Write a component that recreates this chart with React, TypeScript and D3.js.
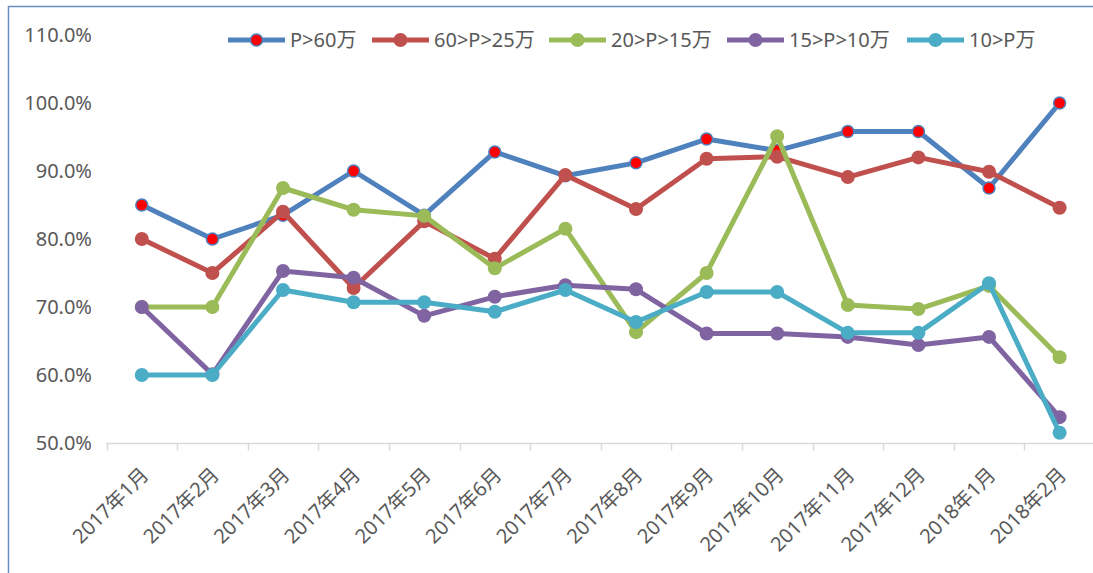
import React from "react";
import * as d3 from "d3";

const months = [
  "2017年1月", "2017年2月", "2017年3月", "2017年4月", "2017年5月", "2017年6月", "2017年7月",
  "2017年8月", "2017年9月", "2017年10月", "2017年11月", "2017年12月", "2018年1月", "2018年2月",
];

const seriesNames = ["P>60万", "60>P>25万", "20>P>15万", "15>P>10万", "10>P万"];

const above60 = [85, 80, 83.5, 90, 83.5, 92.8, 89.3, 91.2, 94.7, 93, 95.8, 95.8, 87.5, 100];
const from25to60 = [80, 75, 84, 72.8, 82.6, 77.1, 89.4, 84.4, 91.8, 92.1, 89.1, 92, 89.9, 84.6];
const from15to20 = [70, 70, 87.5, 84.3, 83.4, 75.7, 81.5, 66.3, 75, 95.1, 70.3, 69.7, 73.1, 62.6];
const from10to15 = [70, 60.1, 75.3, 74.3, 68.7, 71.5, 73.2, 72.6, 66.1, 66.1, 65.6, 64.4, 65.6, 53.8];
const below10 = [60, 60, 72.5, 70.7, 70.7, 69.3, 72.5, 67.8, 72.2, 72.2, 66.2, 66.2, 73.5, 51.5];

const yTicks = [50, 60, 70, 80, 90, 100, 110];

const colors = ["#4F81BD", "#C0504D", "#9BBB59", "#8064A2", "#4BACC6"];

const W = 1093;
const H = 573;
const font = "'Noto Sans', 'Noto Sans CJK SC', sans-serif";

// legend line start x for each item
const legendX = [228, 372, 549, 727, 907];

export default function App() {
  const allSeries = [above60, from25to60, from15to20, from10to15, below10];

  const x = d3.scaleBand<string>().domain(months).range([106.5, 106.5 + 70.6 * 14]).padding(0);
  const cx = (m: string) => (x(m) as number) + x.bandwidth() / 2;
  const y = d3.scaleLinear().domain([50, 110]).range([443, 35]);

  const line = d3
    .line<number>()
    .x((_, i) => cx(months[i]))
    .y((d) => y(d));

  const axisY = Math.round(y(50)) + 0.5;
  const tickXs = months.map((m) => x(m) as number).concat([(x(months[13]) as number) + x.bandwidth()]);

  return (
    <svg
      width={W}
      height={H}
      style={{ position: "absolute", left: 0, top: 0, background: "#fff" }}
      fontFamily={font}
    >
      <rect x={0} y={0} width={W} height={H} fill="#fff" />
      {/* chart frame */}
      <path d={`M8.5,${H + 2}V6.5H${W + 2}`} fill="none" stroke="#6A8EC2" strokeWidth={1.5} />

      {/* y labels */}
      {yTicks.map((t) => (
        <text
          key={t}
          x={92}
          y={y(t)}
          dy="0.36em"
          textAnchor="end"
          fontSize={20}
          fill="#595959"
        >
          {d3.format(".1f")(t) + "%"}
        </text>
      ))}

      {/* x axis */}
      <line x1={106} x2={W} y1={axisY} y2={axisY} stroke="#D9D9D9" strokeWidth={1.5} />
      {tickXs.map((tx, i) => (
        <line
          key={i}
          x1={Math.round(tx) + 0.5}
          x2={Math.round(tx) + 0.5}
          y1={axisY}
          y2={axisY + 7}
          stroke="#D9D9D9"
          strokeWidth={1.5}
        />
      ))}
      {months.map((m) => (
        <text
          key={m}
          transform={`translate(${cx(m) + 8},476) rotate(-45)`}
          textAnchor="end"
          fontSize={20}
          fill="#595959"
        >
          {m}
        </text>
      ))}

      {/* series */}
      {allSeries.map((s, si) => (
        <g key={si}>
          <path
            d={line(s) as string}
            fill="none"
            stroke={colors[si]}
            strokeWidth={5}
            strokeLinejoin="round"
            strokeLinecap="round"
          />
          {s.map((v, i) => (
            <circle
              key={i}
              cx={cx(months[i])}
              cy={y(v)}
              r={si === 0 ? 6 : 7}
              fill={si === 0 ? "#FF0000" : colors[si]}
              stroke={colors[si]}
              strokeWidth={si === 0 ? 1.5 : 0}
            />
          ))}
        </g>
      ))}

      {/* legend */}
      {seriesNames.map((name, i) => (
        <g key={name} transform={`translate(${legendX[i]},40)`}>
          <line x1={0} x2={57} y1={0} y2={0} stroke={colors[i]} strokeWidth={5} />
          <circle
            cx={28.5}
            cy={0}
            r={i === 0 ? 6 : 7}
            fill={i === 0 ? "#FF0000" : colors[i]}
            stroke={colors[i]}
            strokeWidth={i === 0 ? 1.5 : 0}
          />
          <text x={62} y={0} dy="0.36em" fontSize={20} fill="#595959">
            {name}
          </text>
        </g>
      ))}
    </svg>
  );
}
